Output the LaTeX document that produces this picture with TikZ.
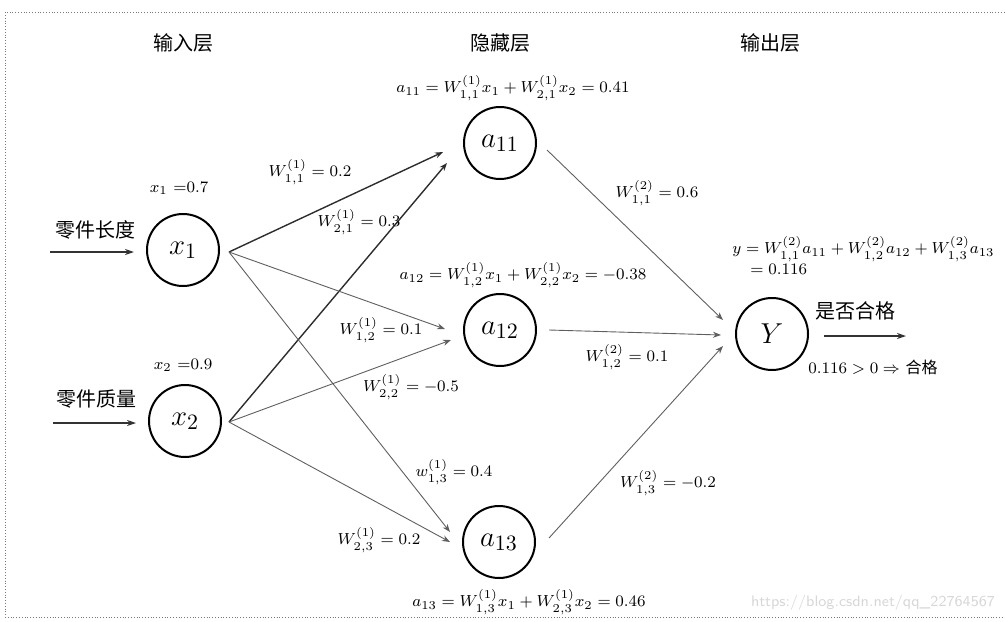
\documentclass[tikz,border=0pt]{standalone}
\usepackage{fontspec}
\usepackage{tikz}
\usetikzlibrary{arrows.meta,calc}
\newfontfamily\cjk{Noto Sans CJK SC}
\definecolor{EdgeGray}{RGB}{95,95,95}
\definecolor{EdgeDark}{RGB}{45,45,45}
\definecolor{FrameGray}{RGB}{120,120,120}
\definecolor{MarkGray}{RGB}{215,215,215}

\tikzset{
  neuron/.style={circle, draw, line width=1pt, minimum size=36pt, inner sep=0pt, font=\fontsize{15}{17}\selectfont},
  weight/.style={EdgeGray, line width=0.45pt, -{Stealth[length=4pt,width=3pt]}},
  heavy/.style={EdgeDark, line width=0.7pt, -{Stealth[length=4pt,width=3pt]}},
  feed/.style={black!80, line width=0.8pt, -{Stealth[length=4.5pt,width=3pt]}},
  wlabel/.style={font=\footnotesize, inner sep=1pt},
  layer/.style={font=\cjk\fontsize{10}{12}\selectfont},
}

\begin{document}
\begin{tikzpicture}[x=0.5pt,y=-0.5pt]
    \useasboundingbox (0,0) rectangle (1005,621);
    %%Frame
    \draw[FrameGray, densely dotted, line width=0.4pt] (1010,12) to (5,12) to (5,617) to (1010,617);
    %%Layer titles
    \node[layer] (tin) at (183,43) {输入层};
    \node[layer] (thid) at (500,43) {隐藏层};
    \node[layer] (tout) at (770,43) {输出层};
    %%Neurons
    \node[neuron] (x1) at (183,250) {$x_1$};
    \node[neuron] (x2) at (185,421) {$x_2$};
    \node[neuron] (a11) at (500,143) {$a_{11}$};
    \node[neuron] (a12) at (500,330) {$a_{12}$};
    \node[neuron] (a13) at (499,542) {$a_{13}$};
    \node[neuron] (Y) at (772,334) {$Y$};
    %%Inputs
    \coordinate (len) at (50,252);
    \coordinate (mass) at (53,423);
    \draw[feed] (len) to ($(x1.west)+(-12,2)$);
    \draw[feed] (mass) to ($(x2.west)+(-12,2)$);
    \node[layer] (tlen) at (95,230) {零件长度};
    \node[layer] (tmass) at (96,399) {零件质量};
    \node[wlabel] (vx1) at (179,188) {$x_1$ =0.7};
    \node[wlabel] (vx2) at (183,365) {$x_2$ =0.9};
    %%Input to hidden
    \draw[heavy] ($(x1.east)+(9,2)$) to ($(a11.west)+(-20,9)$);
    \draw[heavy] ($(x2.east)+(7,1)$) to ($(a11.west)+(-16,20)$);
    \draw[weight] ($(x1.east)+(9,2)$) to ($(a12.west)+(-18,-1)$);
    \draw[weight] ($(x2.east)+(7,1)$) to ($(a12.west)+(-12,10)$);
    \draw[weight] ($(x1.east)+(9,2)$) to ($(a13.west)+(-12,-10)$);
    \draw[weight] ($(x2.east)+(7,1)$) to ($(a13.west)+(-12,0)$);
    \node[wlabel] (w111) at (310,172) {$W_{1,1}^{(1)} = 0.2$};
    \node[wlabel] (w121) at (359,222) {$W_{2,1}^{(1)} = 0.3$};
    \node[wlabel] (w112) at (381,330) {$W_{1,2}^{(1)} = 0.1$};
    \node[wlabel] (w122) at (411,387) {$W_{2,2}^{(1)} = -0.5$};
    \node[wlabel] (w113) at (454,472) {$w_{1,3}^{(1)} = 0.4$};
    \node[wlabel] (w123) at (379,540) {$W_{2,3}^{(1)} = 0.2$};
    %%Hidden sums
    \node[wlabel] (sa11) at (513,88) {$a_{11} = W_{1,1}^{(1)}x_1 + W_{2,1}^{(1)}x_2 = 0.41$};
    \node[wlabel] (sa12) at (523,275) {$a_{12} = W_{1,2}^{(1)}x_1 + W_{2,2}^{(1)}x_2 = -0.38$};
    \node[wlabel] (sa13) at (529,602) {$a_{13} = W_{1,3}^{(1)}x_1 + W_{2,3}^{(1)}x_2 = 0.46$};
    %%Hidden to output
    \draw[weight] ($(a11.east)+(10,7)$) to ($(Y.west)+(-12,-14)$);
    \draw[weight] ($(a12.east)+(12,0)$) to ($(Y.west)+(-14,1)$);
    \draw[weight] ($(a13.east)+(13,-4)$) to ($(Y.west)+(-12,12)$);
    \node[wlabel] (w211) at (657,193) {$W_{1,1}^{(2)} = 0.6$};
    \node[wlabel] (w212) at (627,357) {$W_{1,2}^{(2)} = 0.1$};
    \node[wlabel] (w213) at (668,483) {$W_{1,3}^{(2)} = -0.2$};
    %%Output
    \node[wlabel, anchor=west] (sy) at (730,249) {$y = W_{1,1}^{(2)}a_{11} + W_{1,2}^{(2)}a_{12} + W_{1,3}^{(2)}a_{13}$};
    \node[wlabel, anchor=west] (sy2) at (748,269) {$= 0.116$};
    \coordinate (res) at (906,336);
    \draw[feed] ($(Y.east)+(15,2)$) to (res);
    \node[layer] (tres) at (855,311) {是否合格};
    \node[wlabel] (tok) at (873,367) {$0.116 > 0 \Rightarrow$ {\cjk 合格}};
    %%Watermark
    \node[MarkGray, font=\sffamily\fontsize{7.6}{9}\selectfont] (mark) at (873,603) {https://blog.csdn.net/qq\_22764567};
\end{tikzpicture}
\end{document}
